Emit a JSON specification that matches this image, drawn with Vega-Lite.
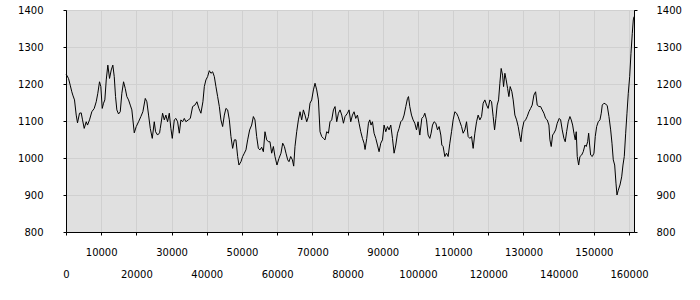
{
  "$schema": "https://vega.github.io/schema/vega-lite/v6.json",
  "width": 568,
  "height": 222,
  "autosize": {"type": "none"},
  "padding": {"left": 66, "top": 10, "right": 66, "bottom": 68},
  "background": "#ffffff",
  "config": {
    "view": {"fill": "#e0e0e0", "stroke": "#000000", "strokeWidth": 1},
    "axis": {
      "labelFont": "DejaVu Sans",
      "labelFontSize": 10,
      "labelColor": "#000000",
      "domainColor": "#000000",
      "tickColor": "#000000",
      "tickSize": 3,
      "gridColor": "#d0d0d0",
      "gridWidth": 1,
      "gridOpacity": 1,
      "title": null
    }
  },
  "data": {"values": [
    {"x":0,"y":1227},{"x":711,"y":1215},{"x":1194,"y":1197},{"x":1650,"y":1179},{"x":1934,"y":1170},{"x":2417,"y":1157},{"x":2901,"y":1116},{"x":3271,"y":1095},{"x":3839,"y":1121},{"x":4323,"y":1122},{"x":4693,"y":1103},{"x":5176,"y":1080},{"x":5745,"y":1098},{"x":6115,"y":1089},{"x":6683,"y":1103},{"x":7338,"y":1125},{"x":8020,"y":1134},{"x":8589,"y":1152},{"x":9044,"y":1175},{"x":9527,"y":1206},{"x":9897,"y":1193},{"x":10295,"y":1134},{"x":10665,"y":1148},{"x":11035,"y":1157},{"x":11433,"y":1211},{"x":11888,"y":1251},{"x":12371,"y":1215},{"x":12855,"y":1238},{"x":13310,"y":1251},{"x":13708,"y":1220},{"x":14078,"y":1166},{"x":14448,"y":1130},{"x":14931,"y":1119},{"x":15414,"y":1125},{"x":15870,"y":1175},{"x":16353,"y":1206},{"x":16836,"y":1188},{"x":17292,"y":1166},{"x":17775,"y":1157},{"x":18258,"y":1143},{"x":18714,"y":1130},{"x":19396,"y":1068},{"x":19965,"y":1085},{"x":20619,"y":1098},{"x":21273,"y":1112},{"x":21842,"y":1125},{"x":22524,"y":1161},{"x":22980,"y":1152},{"x":23463,"y":1116},{"x":23946,"y":1080},{"x":24515,"y":1053},{"x":25084,"y":1098},{"x":25454,"y":1071},{"x":26023,"y":1062},{"x":26591,"y":1068},
    {"x":26790,"y":1080},{"x":27445,"y":1121},{"x":27928,"y":1103},{"x":28383,"y":1116},{"x":28866,"y":1098},{"x":29350,"y":1121},{"x":29805,"y":1080},{"x":30203,"y":1053},{"x":30772,"y":1103},{"x":31227,"y":1107},{"x":31711,"y":1098},{"x":32194,"y":1067},{"x":32649,"y":1103},{"x":33133,"y":1098},{"x":33616,"y":1107},{"x":34071,"y":1098},{"x":34754,"y":1103},{"x":35322,"y":1107},{"x":35977,"y":1139},{"x":36631,"y":1143},{"x":37200,"y":1152},{"x":37768,"y":1134},{"x":38337,"y":1121},{"x":38906,"y":1152},{"x":39304,"y":1193},{"x":39759,"y":1211},{"x":40243,"y":1220},{"x":40726,"y":1236},{"x":41181,"y":1229},{"x":41665,"y":1233},{"x":42148,"y":1220},{"x":42603,"y":1193},{"x":43087,"y":1166},{"x":43570,"y":1139},{"x":44025,"y":1103},{"x":44509,"y":1085},{"x":44992,"y":1116},{"x":45447,"y":1134},{"x":45931,"y":1130},{"x":46414,"y":1103},{"x":46869,"y":1058},{"x":47353,"y":1026},{"x":47836,"y":1049},{"x":48291,"y":1049},{"x":48775,"y":1004},{"x":49144,"y":981},{"x":49713,"y":990},{"x":50197,"y":1004},{"x":50680,"y":1013},{"x":51135,"y":1022},{"x":51619,"y":1049},{"x":52187,"y":1076},{"x":52756,"y":1089},
    {"x":53240,"y":1112},{"x":53695,"y":1103},{"x":54178,"y":1058},{"x":54662,"y":1026},{"x":55117,"y":1022},{"x":55600,"y":1029},{"x":56084,"y":1017},{"x":56539,"y":1071},{"x":57022,"y":1049},{"x":57506,"y":1044},{"x":57961,"y":1044},{"x":58444,"y":1013},{"x":58928,"y":1031},{"x":59383,"y":1004},{"x":59952,"y":981},{"x":60520,"y":999},{"x":61089,"y":1013},{"x":61573,"y":1040},{"x":62056,"y":1031},{"x":62511,"y":1013},{"x":62995,"y":995},{"x":63364,"y":990},{"x":63848,"y":1004},{"x":64331,"y":995},{"x":64701,"y":978},{"x":65071,"y":1031},{"x":65554,"y":1071},{"x":66038,"y":1103},{"x":66493,"y":1125},{"x":66976,"y":1103},{"x":67460,"y":1130},{"x":67915,"y":1116},{"x":68398,"y":1098},{"x":68882,"y":1112},{"x":69337,"y":1148},{"x":69820,"y":1157},{"x":70304,"y":1184},{"x":70759,"y":1202},{"x":71242,"y":1184},{"x":71726,"y":1157},{"x":72181,"y":1071},{"x":72664,"y":1058},{"x":73148,"y":1053},{"x":73603,"y":1049},{"x":74086,"y":1071},{"x":74570,"y":1067},{"x":75025,"y":1098},{"x":75508,"y":1103},{"x":75992,"y":1130},{"x":76447,"y":1139},{"x":76930,"y":1098},{"x":77414,"y":1121},{"x":77869,"y":1130},{"x":78352,"y":1116},{"x":78836,"y":1094},{"x":79291,"y":1112},
    {"x":79973,"y":1121},{"x":80428,"y":1130},{"x":80912,"y":1098},{"x":81395,"y":1116},{"x":81850,"y":1125},{"x":82334,"y":1107},{"x":82817,"y":1116},{"x":83272,"y":1094},{"x":83756,"y":1071},{"x":84239,"y":1053},{"x":84694,"y":1040},{"x":84979,"y":1023},{"x":85462,"y":1053},{"x":85946,"y":1094},{"x":86315,"y":1103},{"x":86685,"y":1089},{"x":87083,"y":1098},{"x":87538,"y":1067},{"x":88022,"y":1053},{"x":88505,"y":1035},{"x":88960,"y":1017},{"x":89444,"y":1040},{"x":89927,"y":1049},{"x":90382,"y":1089},{"x":90866,"y":1071},{"x":91349,"y":1085},{"x":91804,"y":1076},{"x":92288,"y":1089},{"x":92771,"y":1053},{"x":93226,"y":1013},{"x":93710,"y":1035},{"x":94193,"y":1067},{"x":94648,"y":1080},{"x":95132,"y":1098},{"x":95615,"y":1103},{"x":96070,"y":1116},{"x":96554,"y":1139},{"x":97037,"y":1161},{"x":97322,"y":1166},{"x":97691,"y":1139},{"x":98175,"y":1116},{"x":98630,"y":1103},{"x":99113,"y":1094},{"x":99597,"y":1076},{"x":100052,"y":1098},{"x":100535,"y":1062},{"x":101104,"y":1107},{"x":101588,"y":1112},{"x":101957,"y":1121},{"x":102441,"y":1103},{"x":102896,"y":1062},{"x":103379,"y":1053},{"x":103749,"y":1067},{"x":104147,"y":1089},{"x":104602,"y":1098},{"x":105086,"y":1094},{"x":105569,"y":1076},{"x":106024,"y":1085},{"x":106508,"y":1062},{"x":106792,"y":1035},
    {"x":107162,"y":1031},{"x":107645,"y":1004},{"x":108129,"y":1013},{"x":108584,"y":1004},{"x":109067,"y":1040},{"x":109551,"y":1071},{"x":110006,"y":1103},{"x":110489,"y":1125},{"x":110973,"y":1121},{"x":111428,"y":1112},{"x":111911,"y":1098},{"x":112395,"y":1085},{"x":112850,"y":1067},{"x":113333,"y":1076},{"x":113817,"y":1098},{"x":114272,"y":1058},{"x":114755,"y":1053},{"x":115239,"y":1058},{"x":115694,"y":1026},{"x":116177,"y":1067},{"x":116661,"y":1098},{"x":117116,"y":1116},{"x":117599,"y":1103},{"x":118083,"y":1112},{"x":118538,"y":1148},{"x":119021,"y":1157},{"x":119505,"y":1143},{"x":119960,"y":1134},{"x":120443,"y":1157},{"x":120927,"y":1152},{"x":121382,"y":1112},{"x":121780,"y":1076},{"x":122150,"y":1107},{"x":122520,"y":1143},{"x":122918,"y":1157},{"x":123287,"y":1202},{"x":123657,"y":1242},{"x":124055,"y":1224},{"x":124340,"y":1193},{"x":124709,"y":1229},{"x":125079,"y":1211},{"x":125477,"y":1188},{"x":125847,"y":1166},{"x":126217,"y":1193},{"x":126700,"y":1179},{"x":127070,"y":1157},{"x":127553,"y":1116},{"x":128037,"y":1103},{"x":128492,"y":1085},{"x":128975,"y":1058},{"x":129260,"y":1044},{"x":129630,"y":1076},{"x":130113,"y":1098},{"x":130596,"y":1103},{"x":131052,"y":1112},{"x":131535,"y":1125},{"x":132018,"y":1134},{"x":132474,"y":1143},{"x":132957,"y":1170},{"x":133440,"y":1179},
    {"x":133896,"y":1143},{"x":134379,"y":1139},{"x":134862,"y":1139},{"x":135318,"y":1130},{"x":135801,"y":1121},{"x":136284,"y":1107},{"x":136740,"y":1103},{"x":137223,"y":1089},{"x":137507,"y":1049},{"x":137877,"y":1031},{"x":138275,"y":1062},{"x":138645,"y":1067},{"x":139128,"y":1076},{"x":139584,"y":1094},{"x":140152,"y":1107},{"x":140550,"y":1103},{"x":141006,"y":1076},{"x":141489,"y":1053},{"x":141859,"y":1044},{"x":142257,"y":1071},{"x":142712,"y":1098},{"x":143195,"y":1112},{"x":143565,"y":1103},{"x":143963,"y":1089},{"x":144333,"y":1067},{"x":144703,"y":1049},{"x":144987,"y":1071},{"x":145272,"y":1004},{"x":145670,"y":981},{"x":146039,"y":1004},{"x":146523,"y":1008},{"x":146978,"y":1017},{"x":147461,"y":1035},{"x":147831,"y":1031},{"x":148229,"y":1044},{"x":148514,"y":1067},{"x":148798,"y":1035},{"x":149082,"y":1008},{"x":149538,"y":1004},{"x":150021,"y":1013},{"x":150391,"y":1058},{"x":150789,"y":1085},{"x":151244,"y":1098},{"x":151727,"y":1103},{"x":152097,"y":1121},{"x":152382,"y":1143},{"x":152865,"y":1148},{"x":153348,"y":1146},{"x":153804,"y":1141},{"x":154287,"y":1112},{"x":154770,"y":1076},{"x":155140,"y":1040},{"x":155510,"y":995},{"x":155908,"y":981},{"x":156278,"y":932},{"x":156562,"y":900},{"x":156932,"y":913},{"x":157415,"y":927},{"x":157899,"y":949},{"x":158269,"y":981},{"x":158638,"y":1004},{"x":159036,"y":1067},{"x":159406,"y":1121},{"x":159776,"y":1175},{"x":160174,"y":1220},{"x":160543,"y":1283},{"x":160913,"y":1337},{"x":161197,"y":1373},{"x":161397,"y":1382}
  ]},
  "layer": [
    {
      "mark": {"type": "line", "color": "#000000", "strokeWidth": 1, "interpolate": "linear"},
      "encoding": {
        "x": {
          "field": "x", "type": "quantitative",
          "scale": {"domain": [0, 161400], "nice": false, "zero": false},
          "axis": {
            "orient": "bottom",
            "values": [0,10000,20000,30000,40000,50000,60000,70000,80000,90000,100000,110000,120000,130000,140000,150000,160000],
            "labelExpr": "(round(datum.value/10000) % 2 == 1) ? format(datum.value, 'd') : ''",
            "labelPadding": 12,
            "grid": true,
            "labelFlush": false,
            "labelOverlap": false
          }
        },
        "y": {
          "field": "y", "type": "quantitative",
          "scale": {"domain": [800, 1400], "nice": false, "zero": false},
          "axis": {
            "orient": "left",
            "values": [800,900,1000,1100,1200,1300,1400],
            "format": "d",
            "labelPadding": 20,
            "grid": true,
            "labelFlush": false,
            "labelOverlap": false
          }
        }
      }
    },
    {
      "mark": {"type": "line", "color": "#000000", "strokeWidth": 1, "opacity": 0},
      "encoding": {
        "x": {
          "field": "x", "type": "quantitative",
          "scale": {"domain": [0, 161400], "nice": false, "zero": false},
          "axis": {
            "orient": "bottom",
            "values": [0,20000,40000,60000,80000,100000,120000,140000,160000],
            "format": "d",
            "ticks": false,
            "domain": false,
            "grid": false,
            "labelPadding": 37,
            "labelFlush": false,
            "labelOverlap": false
          }
        },
        "y": {
          "field": "y", "type": "quantitative",
          "scale": {"domain": [800, 1400], "nice": false, "zero": false},
          "axis": {
            "orient": "right",
            "values": [800,900,1000,1100,1200,1300,1400],
            "format": "d",
            "labelPadding": 19,
            "grid": false,
            "labelFlush": false,
            "labelOverlap": false
          }
        }
      }
    }
  ],
  "resolve": {"axis": {"x": "independent", "y": "independent"}}
}
